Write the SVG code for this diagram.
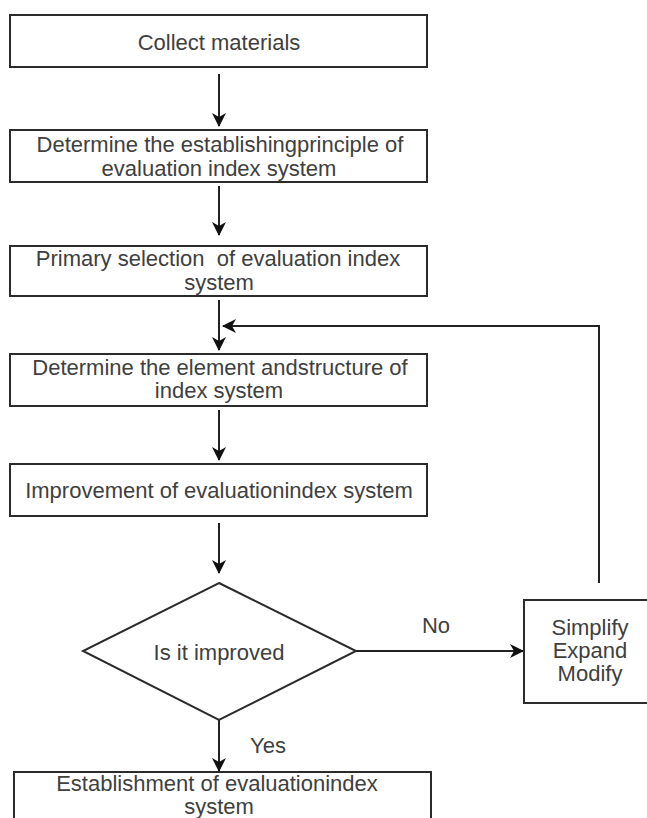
<svg xmlns="http://www.w3.org/2000/svg" width="647" height="818" viewBox="0 0 647 818">
<style>
.box{fill:#fff;stroke:#2b2b2b;stroke-width:2}
.t{font-family:"Liberation Sans",Arial,sans-serif;font-size:22px;fill:#404040;text-anchor:middle}
.c{fill:none;stroke:#222;stroke-width:2}
</style>
<defs>
<marker id="ah" markerUnits="userSpaceOnUse" markerWidth="14" markerHeight="14" viewBox="0 0 14 14" refX="13" refY="7" orient="auto">
<path d="M0,0 L14,7 L0,14 L4,7 Z" fill="#111"/>
</marker>
</defs>
<rect width="647" height="818" fill="#fff"/>
<g id="n1"><rect class="box" x="10" y="15" width="417" height="52"/><text class="t" x="219" y="50">Collect materials</text></g>
<g id="n2"><rect class="box" x="10" y="130" width="417" height="52"/><text class="t" x="220" y="152">Determine the establishingprinciple of</text><text class="t" x="219" y="176">evaluation index system</text></g>
<g id="n3"><rect class="box" x="10" y="246" width="417" height="50"/><text class="t" x="218" y="266" xml:space="preserve">Primary selection  of evaluation index</text><text class="t" x="219" y="290">system</text></g>
<g id="n4"><rect class="box" x="10" y="354" width="417" height="52"/><text class="t" x="220" y="375">Determine the element andstructure of</text><text class="t" x="219" y="398">index system</text></g>
<g id="n5"><rect class="box" x="10" y="464" width="417" height="52"/><text class="t" x="219" y="498">Improvement of evaluationindex system</text></g>
<g id="n6"><polygon class="box" points="219,583 356,651 219,720 83,651"/><text class="t" x="219" y="660">Is it improved</text></g>
<g id="n7"><rect class="box" x="524" y="600" width="140" height="103"/><text class="t" x="590" y="635">Simplify</text><text class="t" x="590" y="658">Expand</text><text class="t" x="590" y="681">Modify</text></g>
<g id="n8"><rect class="box" x="14" y="772" width="417" height="60"/><text class="t" x="217" y="791">Establishment of evaluationindex</text><text class="t" x="219" y="814">system</text></g>
<g id="connectors">
<path class="c" d="M219,74 V126" marker-end="url(#ah)"/>
<path class="c" d="M219,186 V235" marker-end="url(#ah)"/>
<path class="c" d="M219,300 V350" marker-end="url(#ah)"/>
<path class="c" d="M219,410 V460" marker-end="url(#ah)"/>
<path class="c" d="M219,523 V573" marker-end="url(#ah)"/>
<path class="c" d="M219,720 V771" marker-end="url(#ah)"/>
<path class="c" d="M356,651 H523" marker-end="url(#ah)"/>
<path class="c" d="M599,583 V326 H223" marker-end="url(#ah)"/>
<text class="t" x="436" y="633">No</text>
<text class="t" x="268" y="753">Yes</text>
</g>
</svg>
